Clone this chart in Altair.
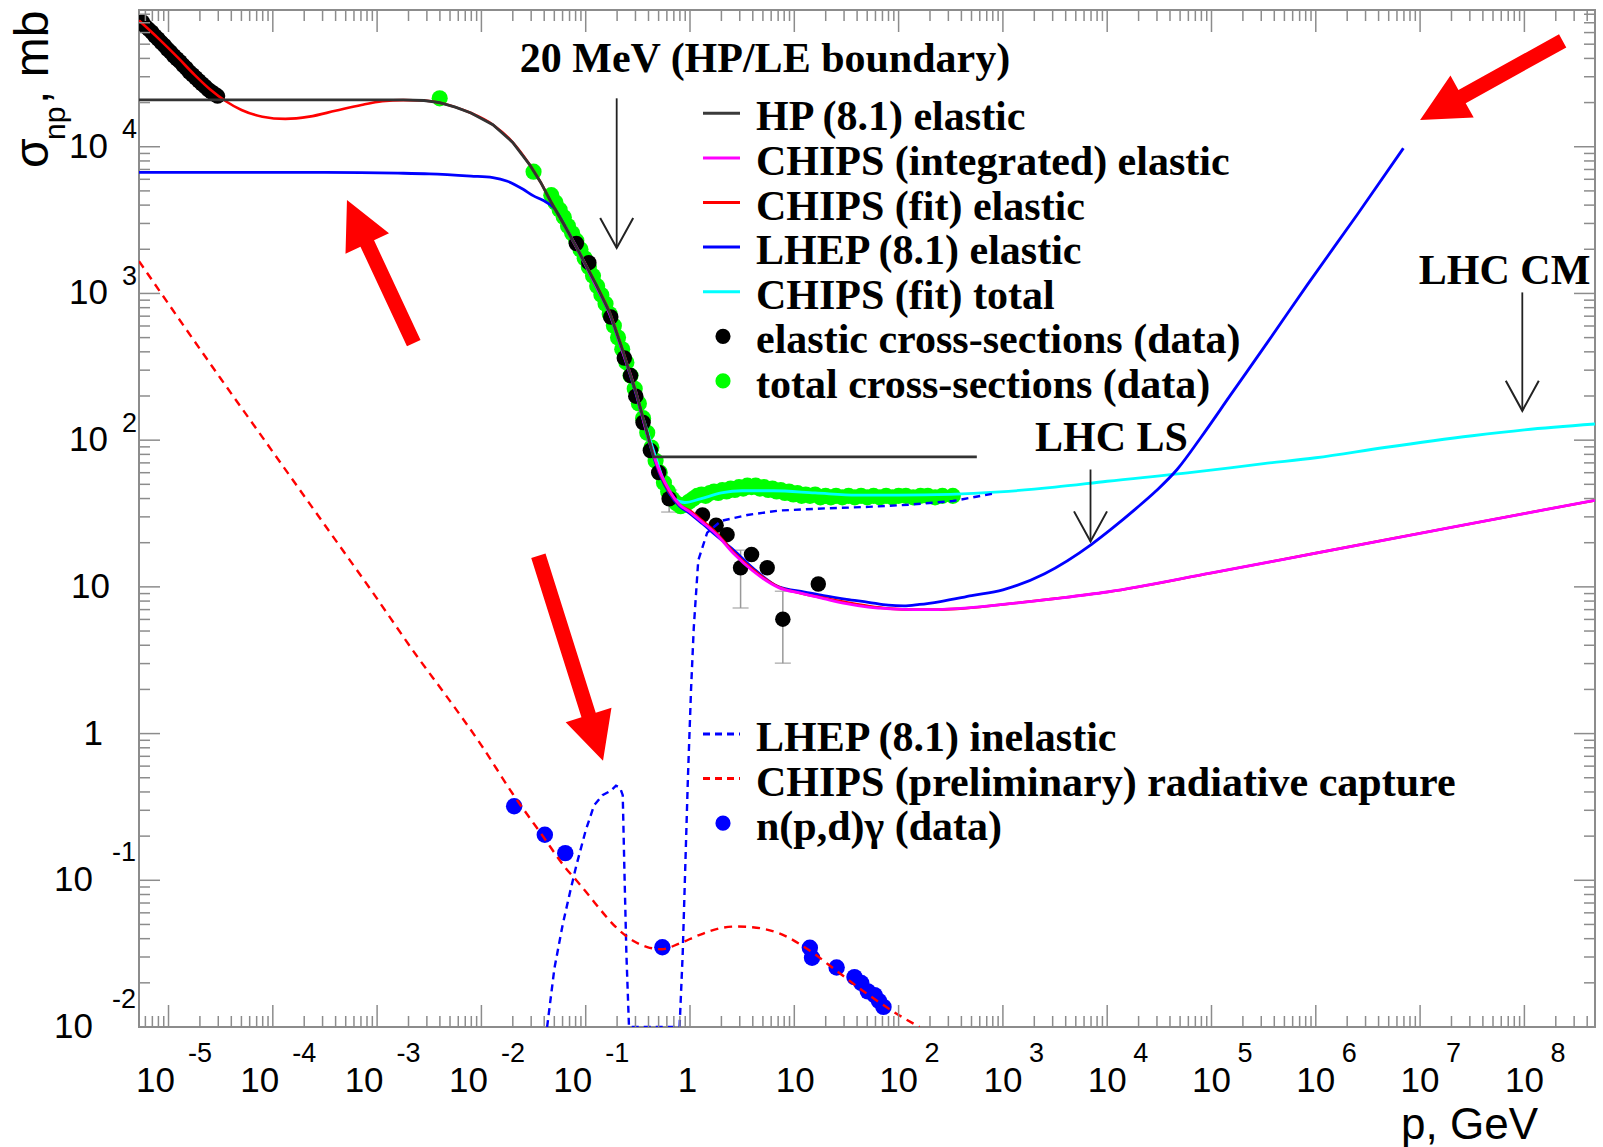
import altair as alt
import numpy as np
import pandas as pd

# ---------------------------------------------------------------------------
# Curves and data points, stored as (log10 p [GeV], log10 sigma [mb]) pairs
# ---------------------------------------------------------------------------
HP_ELASTIC = [
    (-5.283, 4.32), (-2.75, 4.32), (-2.55, 4.315), (-2.4, 4.30), (-2.25, 4.27),
    (-2.1, 4.23), (-1.89, 4.15), (-1.7, 4.03), (-1.54, 3.88), (-1.43, 3.755),
    (-1.33, 3.62), (-1.2, 3.46), (-1.1, 3.33), (-0.9, 3.06), (-0.77, 2.87),
    (-0.64, 2.60), (-0.52, 2.33), (-0.43, 2.10), (-0.35, 1.886), (2.75, 1.886),
]
CHIPS_FIT_ELASTIC = [
    (-5.283, 4.86), (-5.1, 4.74), (-4.9, 4.60), (-4.75, 4.49), (-4.6, 4.39),
    (-4.45, 4.31), (-4.3, 4.25), (-4.1, 4.205), (-3.88, 4.19), (-3.65, 4.205),
    (-3.4, 4.245), (-3.15, 4.285), (-2.95, 4.31), (-2.75, 4.318), (-2.55, 4.315),
    (-2.4, 4.30), (-2.25, 4.27), (-2.1, 4.23), (-1.89, 4.15), (-1.7, 4.03),
    (-1.54, 3.88), (-1.43, 3.755), (-1.33, 3.62), (-1.2, 3.46), (-1.1, 3.33),
    (-0.9, 3.06), (-0.77, 2.87), (-0.64, 2.60), (-0.52, 2.33), (-0.43, 2.10),
    (-0.35, 1.90), (-0.28, 1.76), (-0.2, 1.65), (-0.1, 1.56), (0.0, 1.52),
    (0.12, 1.45), (0.25, 1.37), (0.42, 1.235), (0.6, 1.12), (0.85, 1.0),
    (1.07, 0.955), (1.28, 0.925), (1.5, 0.895), (1.71, 0.87), (1.92, 0.852),
    (2.14, 0.845), (2.35, 0.845), (2.56, 0.85), (3.0, 0.88), (3.5, 0.92),
    (4.0, 0.965), (5.0, 1.095), (6.0, 1.23), (7.0, 1.365), (8.0, 1.50), (8.677, 1.59),
]
CHIPS_INT_ELASTIC = [
    (-1.2, 3.46), (-1.1, 3.33), (-0.9, 3.05), (-0.77, 2.86), (-0.64, 2.59),
    (-0.52, 2.33), (-0.43, 2.09), (-0.35, 1.90), (-0.28, 1.77), (-0.2, 1.66),
    (-0.1, 1.56), (0.0, 1.51), (0.12, 1.44), (0.25, 1.36), (0.42, 1.225),
    (0.6, 1.11), (0.85, 0.995), (1.07, 0.955), (1.28, 0.92), (1.5, 0.885),
    (1.71, 0.862), (1.92, 0.85), (2.14, 0.845), (2.35, 0.845), (2.56, 0.852),
    (3.0, 0.88), (3.5, 0.92), (4.0, 0.965), (5.0, 1.095), (6.0, 1.23),
    (7.0, 1.365), (8.0, 1.50), (8.677, 1.59),
]
LHEP_ELASTIC = [
    (-5.283, 3.825), (-3.5, 3.825), (-2.8, 3.82), (-2.5, 3.815), (-2.1, 3.80),
    (-1.89, 3.79), (-1.75, 3.765), (-1.6, 3.71), (-1.5, 3.665), (-1.41, 3.635),
    (-1.3, 3.58), (-1.2, 3.46), (-1.1, 3.33), (-0.9, 3.05), (-0.77, 2.86),
    (-0.64, 2.59), (-0.52, 2.32), (-0.43, 2.09), (-0.35, 1.89), (-0.28, 1.75),
    (-0.2, 1.64), (-0.1, 1.55), (0.0, 1.50), (0.12, 1.43), (0.25, 1.35),
    (0.42, 1.25), (0.6, 1.13), (0.85, 1.0), (1.1, 0.965), (1.28, 0.94),
    (1.5, 0.915), (1.71, 0.895), (1.9, 0.875), (2.05, 0.87), (2.2, 0.88),
    (2.4, 0.90), (2.7, 0.94), (3.0, 0.98), (3.4, 1.09), (3.85, 1.29),
    (4.05, 1.40), (4.27, 1.53), (4.47, 1.655), (4.67, 1.80), (4.9, 2.02),
    (5.185, 2.31), (5.55, 2.68), (5.92, 3.06), (6.4, 3.54), (6.84, 3.99),
]
CHIPS_FIT_TOTAL = [
    (-0.45, 2.15), (-0.35, 1.93), (-0.25, 1.72), (-0.15, 1.60), (-0.05, 1.575),
    (0.1, 1.60), (0.3, 1.64), (0.5, 1.655), (0.8, 1.655), (1.2, 1.64),
    (1.6, 1.625), (2.0, 1.625), (2.5, 1.63), (2.97, 1.647), (3.5, 1.68),
    (4.0, 1.72), (4.81, 1.78), (5.5, 1.84), (6.0, 1.88), (6.66, 1.95),
    (7.5, 2.03), (8.0, 2.07), (8.677, 2.11),
]
LHEP_INELASTIC = [
    (-1.37, -2.0), (-1.30, -1.60), (-1.22, -1.30), (-1.15, -1.08), (-1.09, -0.90),
    (-1.0, -0.66), (-0.92, -0.49), (-0.84, -0.42), (-0.76, -0.39), (-0.71, -0.355),
    (-0.67, -0.37), (-0.645, -0.42), (-0.63, -0.90), (-0.61, -1.5), (-0.585, -2.0),
    (-0.10, -2.0), (-0.07, -1.5), (-0.045, -0.9), (-0.02, -0.3), (0.01, 0.3),
    (0.036, 0.72), (0.079, 1.18), (0.165, 1.37), (0.3, 1.45), (0.55, 1.49),
    (0.85, 1.52), (1.3, 1.535), (1.71, 1.545), (2.1, 1.56), (2.52, 1.585), (2.94, 1.64),
]
CHIPS_RAD_CAPTURE = [
    (-5.283, 3.22), (-4.5, 2.42), (-4.13, 2.05), (-3.5, 1.42), (-3.06, 0.98),
    (-2.6, 0.51), (-2.34, 0.26), (-2.0, -0.08), (-1.7, -0.41), (-1.4, -0.71),
    (-1.2, -0.91), (-1.09, -1.0), (-0.95, -1.12), (-0.86, -1.20), (-0.71, -1.32),
    (-0.55, -1.41), (-0.41, -1.455), (-0.27, -1.47), (-0.1, -1.43), (0.1, -1.37),
    (0.3, -1.325), (0.45, -1.315), (0.6, -1.32), (0.85, -1.36), (1.15, -1.48),
    (1.41, -1.62), (1.71, -1.78), (1.96, -1.90), (2.2, -2.0),
]
ELASTIC_DATA = [
    (-5.25, 4.85), (-5.22, 4.82), (-5.19, 4.80), (-5.16, 4.78), (-5.13, 4.755),
    (-5.10, 4.735), (-5.07, 4.71), (-5.04, 4.69), (-5.01, 4.665), (-4.98, 4.645),
    (-4.95, 4.62), (-4.92, 4.60), (-4.89, 4.58), (-4.86, 4.555), (-4.83, 4.535),
    (-4.80, 4.51), (-4.77, 4.49), (-4.74, 4.47), (-4.71, 4.45), (-4.68, 4.43),
    (-4.65, 4.41), (-4.62, 4.39), (-4.59, 4.375), (-4.56, 4.36), (-4.53, 4.345),
    (-1.09, 3.34), (-0.97, 3.21), (-0.76, 2.84), (-0.63, 2.56), (-0.57, 2.44),
    (-0.52, 2.30), (-0.45, 2.12), (-0.38, 1.93), (-0.30, 1.78), (-0.2, 1.60),
    (0.12, 1.49), (0.25, 1.42), (0.355, 1.356), (0.485, 1.13), (0.59, 1.22),
    (0.74, 1.13), (0.89, 0.78), (1.23, 1.02),
]
ELASTIC_ERR_P = [-0.2, 0.485, 0.89]
ELASTIC_ERR_LO = [1.51, 0.856, 0.48]
ELASTIC_ERR_HI = [1.66, 1.25, 0.97]
TOTAL_DATA = [
    (-2.40, 4.33), (-1.50, 3.83), (-1.33, 3.67), (-1.29, 3.62), (-1.25, 3.57),
    (-1.21, 3.52), (-1.17, 3.46), (-1.13, 3.41), (-1.09, 3.36), (-1.05, 3.30),
    (-1.01, 3.24), (-0.97, 3.18), (-0.93, 3.12), (-0.89, 3.05), (-0.85, 2.99),
    (-0.81, 2.93), (-0.77, 2.86), (-0.73, 2.78), (-0.69, 2.70), (-0.65, 2.62),
    (-0.61, 2.53), (-0.57, 2.44), (-0.53, 2.35), (-0.49, 2.25), (-0.45, 2.15),
    (-0.41, 2.05), (-0.37, 1.95), (-0.33, 1.86), (-0.29, 1.78), (-0.25, 1.71),
    (-0.21, 1.65), (-0.17, 1.60), (-0.13, 1.57), (-0.09, 1.55), (-0.05, 1.56),
    (-0.01, 1.58), (0.03, 1.60), (0.07, 1.62), (0.11, 1.63), (0.15, 1.62),
    (0.19, 1.64), (0.23, 1.65), (0.27, 1.64), (0.31, 1.66), (0.35, 1.65),
    (0.39, 1.67), (0.43, 1.66), (0.47, 1.68), (0.51, 1.67), (0.55, 1.69),
    (0.59, 1.68), (0.63, 1.69), (0.67, 1.67), (0.71, 1.68), (0.75, 1.66),
    (0.79, 1.67), (0.83, 1.65), (0.87, 1.66), (0.91, 1.64), (0.95, 1.65),
    (0.99, 1.63), (1.03, 1.64), (1.07, 1.62), (1.11, 1.63), (1.15, 1.62),
    (1.20, 1.63), (1.25, 1.61), (1.30, 1.62), (1.35, 1.61), (1.40, 1.62),
    (1.46, 1.61), (1.52, 1.62), (1.58, 1.61), (1.64, 1.62), (1.70, 1.61),
    (1.76, 1.62), (1.82, 1.61), (1.88, 1.62), (1.94, 1.61), (2.00, 1.62),
    (2.07, 1.62), (2.14, 1.61), (2.21, 1.62), (2.28, 1.62), (2.35, 1.61),
    (2.42, 1.62), (2.52, 1.62),
]
NPD_GAMMA_DATA = [
    (-1.686, -0.495), (-1.392, -0.69), (-1.196, -0.815), (-0.265, -1.456),
    (1.149, -1.46), (1.17, -1.528), (1.406, -1.594), (1.577, -1.66),
    (1.642, -1.70), (1.705, -1.757), (1.77, -1.783), (1.812, -1.823), (1.855, -1.863),
]

# annotation arrows and labels, in data coordinates
THIN_ARROWS = [(-0.703, 4.33, 3.31), (3.84, 1.80, 1.31), (7.98, 3.007, 2.20)]  # p, top, tip
NOTES = [("20 MeV (HP/LE boundary)", 0.719, 4.512), ("LHC LS", 4.041, 1.926),
         ("LHC CM", 7.81, 3.061)]
RED_ARROW_TIPS = [(-3.289, 3.637), (-0.834, -0.186), (7.0, 4.183)]

LEGEND_TOP = [
    ("HP (8.1) elastic", "line", "#3a3a3a"),
    ("CHIPS (integrated) elastic", "line", "#ff00ff"),
    ("CHIPS (fit) elastic", "line", "#ff0000"),
    ("LHEP (8.1) elastic", "line", "#0000ff"),
    ("CHIPS (fit) total", "line", "#00ffff"),
    ("elastic cross-sections (data)", "dot", "#000000"),
    ("total cross-sections (data)", "dot", "#00ff00"),
]
LEGEND_BOTTOM = [
    ("LHEP (8.1) inelastic", "dash", "#0000ff"),
    ("CHIPS (preliminary) radiative capture", "dash", "#ff0000"),
    ("n(p,d)\u03b3 (data)", "dot", "#0000ff"),
]

# ---------------------------------------------------------------------------
# Layout and scales
# ---------------------------------------------------------------------------
W, H = 1456, 1017
LOG_P = (-5.283, 8.677)
LOG_S = (-2.0, 4.932)
GREY = "#8c8c8c"
SANS = "Liberation Sans"
SERIF = "Liberation Serif"

xs = alt.Scale(type="log", domain=[10 ** LOG_P[0], 10 ** LOG_P[1]], nice=False)
ys = alt.Scale(type="log", domain=[10 ** LOG_S[0], 10 ** LOG_S[1]], nice=False)
X = alt.X("p:Q", scale=xs, axis=None)
Y = alt.Y("s:Q", scale=ys, axis=None)


def frame(pairs):
    a = np.array(pairs, dtype=float)
    return pd.DataFrame({"p": 10 ** a[:, 0], "s": 10 ** a[:, 1], "k": np.arange(len(a))})


def curve(pairs, color, width=2.6, dash=None, smooth=True):
    kw = dict(color=color, strokeWidth=width, clip=True)
    if smooth:
        kw["interpolate"] = "monotone"
    if dash:
        kw["strokeDash"] = dash
    return alt.Chart(frame(pairs)).mark_line(**kw).encode(x=X, y=Y, order="k:Q")


def dots(pairs, color, size=250):
    return alt.Chart(frame(pairs)).mark_circle(
        color=color, size=size, opacity=1, clip=True).encode(x=X, y=Y)


layers = []

# --- error bars and measured points
err = pd.DataFrame({"p": 10 ** np.array(ELASTIC_ERR_P),
                    "lo": 10 ** np.array(ELASTIC_ERR_LO),
                    "hi": 10 ** np.array(ELASTIC_ERR_HI)})
layers.append(alt.Chart(err).mark_rule(color="#999999", strokeWidth=1.5).encode(
    x=X, y=alt.Y("lo:Q", scale=ys, axis=None), y2="hi:Q"))
for col in ("lo", "hi"):
    layers.append(alt.Chart(err).mark_tick(orient="horizontal", color="#999999",
                                           size=16, thickness=1.5).encode(
        x=X, y=alt.Y(f"{col}:Q", scale=ys, axis=None)))

layers += [dots(TOTAL_DATA, "#00ff00", 260), dots(ELASTIC_DATA, "#000000", 240),
           dots(NPD_GAMMA_DATA, "#0000ff", 270)]

# --- model curves
layers += [
    curve(CHIPS_FIT_TOTAL, "#00ffff", 2.8),
    curve(LHEP_INELASTIC, "#0000ff", 2.4, [7, 5], smooth=False),
    curve(CHIPS_RAD_CAPTURE, "#ff0000", 2.4, [8, 6]),
    curve(LHEP_ELASTIC, "#0000ff", 2.8),
    curve(CHIPS_FIT_ELASTIC, "#ff0000", 2.6),
    curve(CHIPS_INT_ELASTIC, "#ff00ff", 2.8),
    curve(HP_ELASTIC, "#333333", 2.8, smooth=False),
]

# --- thin black arrows with open heads
thin = pd.DataFrame({"p": [10 ** a[0] for a in THIN_ARROWS],
                     "top": [10 ** a[1] for a in THIN_ARROWS],
                     "s": [10 ** a[2] for a in THIN_ARROWS]})
layers.append(alt.Chart(thin).mark_rule(color="#222222", strokeWidth=1.8).encode(
    x=X, y=alt.Y("top:Q", scale=ys, axis=None), y2="s:Q"))
layers.append(alt.Chart(thin).mark_point(
    shape="M-0.55,-1L0,0L0.55,-1", filled=False, size=3600,
    strokeWidth=2, color="#222222", opacity=1).encode(x=X, y=Y))

notes = pd.DataFrame({"label": [n[0] for n in NOTES],
                      "p": [10 ** n[1] for n in NOTES],
                      "s": [10 ** n[2] for n in NOTES]})
layers.append(alt.Chart(notes).mark_text(
    font=SERIF, fontWeight="bold", fontSize=42, align="center",
    baseline="alphabetic", color="#000000").encode(x=X, y=Y, text="label:N"))

# --- thick red pointer arrows (tip at the data point, body along the rotation)
ARROW_ROTATION = [335, 162.5, 241]
ARROW_LENGTH = [158, 215, 163]
HEAD = 48.0
for (lp, ls), rot, length in zip(RED_ARROW_TIPS, ARROW_ROTATION, ARROW_LENGTH):
    hw, sw, L = 24 / HEAD, 7.5 / HEAD, length / HEAD
    path = (f"M0,0L{hw:.3f},1L{sw:.3f},1L{sw:.3f},{L:.3f}"
            f"L{-sw:.3f},{L:.3f}L{-sw:.3f},1L{-hw:.3f},1Z")
    layers.append(alt.Chart(frame([(lp, ls)])).mark_point(
        shape=path, angle=rot, size=(2 * HEAD) ** 2, filled=True,
        color="#ff0000", opacity=1, strokeWidth=0).encode(x=X, y=Y))

# --- axis ticks (inward, on all four sides)
x_major = [10.0 ** d for d in range(-5, 9)]
x_minor = [k * 10.0 ** d for d in range(-6, 9) for k in range(2, 10)
           if LOG_P[0] <= np.log10(k * 10.0 ** d) <= LOG_P[1]]
y_major = [10.0 ** d for d in range(-2, 5)]
y_minor = [k * 10.0 ** d for d in range(-2, 5) for k in range(2, 10)
           if np.log10(k * 10.0 ** d) <= LOG_S[1]]

for vals, length in ((x_major, 22), (x_minor, 11)):
    base = alt.Chart(pd.DataFrame({"p": vals})).mark_rule(color=GREY, strokeWidth=1.5)
    layers.append(base.encode(x=X, y=alt.value(H), y2=alt.value(H - length)))
    layers.append(base.encode(x=X, y=alt.value(0), y2=alt.value(length)))
for vals, length in ((y_major, 21), (y_minor, 11)):
    base = alt.Chart(pd.DataFrame({"s": vals})).mark_rule(color=GREY, strokeWidth=1.5)
    layers.append(base.encode(y=Y, x=alt.value(0), x2=alt.value(length)))
    layers.append(base.encode(y=Y, x=alt.value(W), x2=alt.value(W - length)))

# --- tick labels written as 10 with a raised exponent
LBL = dict(font=SANS, fontSize=35, color="#000000")
EXP = dict(font=SANS, fontSize=27, color="#000000", align="left", baseline="alphabetic")
XB, XE = H + 65, H + 35          # baselines of mantissa and exponent


def xlabels(exps, dx_base, dx_exp):
    d = pd.DataFrame({"p": [10.0 ** e for e in exps], "e": [str(e) for e in exps]})
    c = alt.Chart(d)
    return [c.mark_text(align="center", baseline="alphabetic", dx=dx_base, **LBL).encode(
                x=X, y=alt.value(XB), text=alt.value("10")),
            c.mark_text(dx=dx_exp, **EXP).encode(x=X, y=alt.value(XE), text="e:N")]


layers += xlabels([-5, -4, -3, -2, -1], -13, 19.5)
layers += xlabels([2, 3, 4, 5, 6, 7, 8], 0, 26)
for val, txt, dx in ((1.0, "1", -2.5), (10.0, "10", 1)):
    layers.append(alt.Chart(pd.DataFrame({"p": [val]})).mark_text(
        align="center", baseline="alphabetic", dx=dx, **LBL).encode(
        x=X, y=alt.value(XB), text=alt.value(txt)))


def ylabels(exps, base_right, exp_left, exp_dy):
    d = pd.DataFrame({"s": [10.0 ** e for e in exps], "e": [str(e) for e in exps]})
    c = alt.Chart(d)
    return [c.mark_text(align="right", baseline="middle", **LBL).encode(
                y=Y, x=alt.value(base_right), text=alt.value("10")),
            c.mark_text(dy=exp_dy, **EXP).encode(y=Y, x=alt.value(exp_left), text="e:N")]


layers += ylabels([2, 3, 4], -31, -17, -8.5)
layers += ylabels([-1, -2], -46, -27, -19)
for val, txt, right in ((10.0, "10", -29), (1.0, "1", -36)):
    layers.append(alt.Chart(pd.DataFrame({"s": [val]})).mark_text(
        align="right", baseline="middle", **LBL).encode(
        y=Y, x=alt.value(right), text=alt.value(txt)))

# --- axis titles
layers.append(alt.Chart(pd.DataFrame({"t": ["p, GeV"]})).mark_text(
    font=SANS, fontSize=44, align="right", baseline="alphabetic", color="#000000").encode(
    x=alt.value(W - 57), y=alt.value(H + 112), text="t:N"))
for txt, size, xv, yv in (("\u03c3", 48, -91, 158), ("np", 30, -74, 130), (", mb", 48, -91, 94)):
    layers.append(alt.Chart(pd.DataFrame({"t": [txt]})).mark_text(
        font=SANS, fontSize=size, angle=270, align="left", baseline="alphabetic",
        color="#000000").encode(x=alt.value(xv), y=alt.value(yv), text="t:N"))

# --- legend blocks
LEG_STEP = 44.6


def legend(entries, y0):
    d = pd.DataFrame({"label": [e[0] for e in entries], "kind": [e[1] for e in entries],
                      "color": [e[2] for e in entries],
                      "y": [y0 + i * LEG_STEP for i in range(len(entries))]})
    out = []
    yy = alt.Y("y:Q", scale=None)
    cc = alt.Color("color:N", scale=None)
    for kind in ("line", "dash"):
        sub = d[d.kind == kind]
        if len(sub):
            kw = dict(strokeWidth=3)
            if kind == "dash":
                kw["strokeDash"] = [7, 5]
            out.append(alt.Chart(sub).mark_rule(**kw).encode(
                x=alt.value(564), x2=alt.value(601), y=yy, color=cc))
    sub = d[d.kind == "dot"]
    out.append(alt.Chart(sub).mark_circle(size=230, opacity=1).encode(
        x=alt.value(584), y=yy, color=cc))
    out.append(alt.Chart(d).mark_text(
        font=SERIF, fontWeight="bold", fontSize=42, align="left", baseline="middle",
        dy=4, color="#000000").encode(x=alt.value(617), y=yy, text="label:N"))
    return out


layers += legend(LEGEND_TOP, 103.3)
layers += legend(LEGEND_BOTTOM, 724.0)

chart = alt.layer(*layers).properties(
    width=W, height=H,
    autosize=alt.AutoSizeParams(type="none"),
    padding={"left": 139, "top": 10, "right": 8, "bottom": 120},
    background="#ffffff",
).configure_view(stroke=GREY, strokeWidth=2)

chart.save("out.html", embed_options={"renderer": "svg", "actions": False})
